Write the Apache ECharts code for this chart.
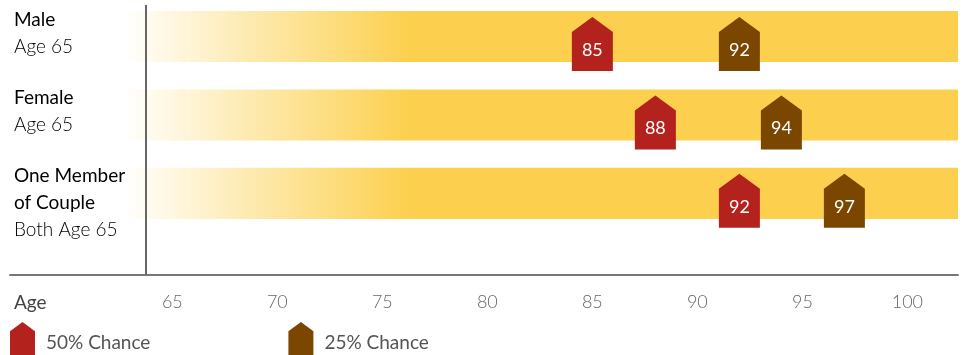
<!DOCTYPE html>
<html>
<head>
<meta charset="utf-8">
<script src="https://cdn.jsdelivr.net/npm/echarts@6/dist/echarts.min.js"></script>
<style>
html,body{margin:0;padding:0;background:#fff;}
#c{width:964px;height:355px;}
</style>
</head>
<body>
<div id="c"></div>
<script>
// ---- data ----
const rowTitles = ['Male', 'Female', 'One Member\nof Couple'];
const rowSubtitles = ['Age 65', 'Age 65', 'Both Age 65'];
const chance50 = [85, 88, 92];
const chance25 = [92, 94, 97];
const tickValues = [65, 70, 75, 80, 85, 90, 95, 100];
const seriesNames = ['50% Chance', '25% Chance'];
const axisTitle = 'Age';

// ---- config ----
const X_MIN = 57.27, X_MAX = 102.41;
const BAR_START = 62.65, DIVIDER = 63.75;
const YELLOW = '#FCD04E', RED = '#B3221C', BROWN = '#7B4600';
const FONT = 'Lato, "Open Sans", sans-serif';
const HOUSE = 'path://M0,15 L20.5,0 L41,15 L41,54 L0,54 Z';

const chart = echarts.init(document.getElementById('c'), null, {renderer: 'canvas'});

const rows = rowTitles.map((t, i) => [i]);

function renderRow(params, api) {
  const row = api.value(0);
  const p0 = api.coord([BAR_START, row]);
  const p1 = api.coord([X_MAX, row]);
  const h = api.size([0, 0.65])[1];
  const top = p0[1] - h / 2;
  const xLeft = api.coord([X_MIN, row])[0];
  const fadeEnd = (api.coord([76.3, row])[0] - p0[0]) / (p1[0] - p0[0]);
  return {
    type: 'group',
    children: [
      {
        type: 'rect',
        shape: {x: p0[0], y: top, width: p1[0] - p0[0], height: h},
        style: {
          fill: new echarts.graphic.LinearGradient(0, 0, 1, 0, [
            {offset: 0, color: 'rgba(252,208,78,0)'},
            {offset: fadeEnd, color: YELLOW},
            {offset: 1, color: YELLOW}
          ])
        },
        z2: 0
      },
      {
        type: 'text',
        x: xLeft + 4,
        y: top - 5,
        style: {
          text: rowTitles[row].split('\n').map(s => '{b|' + s + '}').join('\n') + '\n{l|' + rowSubtitles[row] + '}',
          rich: {
            b: {fontFamily: FONT, fontSize: 19, fontWeight: 400, color: '#444', lineHeight: 27},
            l: {fontFamily: FONT, fontSize: 19, fontWeight: 300, color: '#555', lineHeight: 27}
          },
          verticalAlign: 'top',
          align: 'left'
        },
        z2: 5
      }
    ]
  };
}

function markerSeries(name, vals, color) {
  return {
    name: name,
    type: 'scatter',
    symbol: HOUSE,
    symbolSize: [41, 54],
    symbolOffset: [0, 7.5],
    itemStyle: {color: color, opacity: 1},
    z: 5,
    data: vals.map((v, i) => [v, i]),
    label: {
      show: true,
      position: 'inside',
      offset: [0, 6],
      formatter: p => String(p.value[0]),
      color: '#fff',
      fontFamily: FONT,
      fontSize: 18,
      fontWeight: 400
    },
    emphasis: {disabled: true}
  };
}

chart.setOption({
  animation: false,
  grid: {left: 10, right: 6, top: 5, bottom: 80, containLabel: false},
  xAxis: {
    type: 'value',
    min: X_MIN,
    max: X_MAX,
    splitLine: {show: false},
    axisTick: {show: false},
    axisLine: {show: true, onZero: false, lineStyle: {color: '#777', width: 2}},
    axisLabel: {
      customValues: [X_MIN].concat(tickValues),
      alignMinLabel: 'left',
      margin: 18,
      color: '#666',
      fontFamily: FONT,
      fontSize: 18,
      fontWeight: 300,
      formatter: v => (Math.abs(v - X_MIN) < 1e-6 ? '{a|' + axisTitle + '}' : String(v)),
      rich: {
        a: {fontFamily: FONT, fontSize: 19, fontWeight: 400, color: '#444', padding: [0, 0, 0, 4]}
      }
    }
  },
  yAxis: {
    type: 'value',
    inverse: true,
    min: -0.4,
    max: 3.04,
    show: false
  },
  legend: {
    data: seriesNames,
    left: 10,
    top: 322,
    padding: 0,
    icon: HOUSE,
    itemWidth: 25,
    itemHeight: 33,
    itemGap: 138,
    selectedMode: false,
    formatter: n => '{t|' + n + '}',
    textStyle: {
      fontFamily: FONT, fontSize: 19, color: '#555', fontWeight: 400,
      rich: {t: {fontFamily: FONT, fontSize: 19, color: '#555', padding: [8, 0, 0, 6]}}
    }
  },
  series: [
    {
      type: 'custom',
      renderItem: renderRow,
      data: rows,
      z: 1,
      silent: true,
      markLine: {
        silent: true,
        symbol: 'none',
        label: {show: false},
        lineStyle: {color: '#666', width: 2, type: 'solid'},
        data: [{xAxis: DIVIDER}]
      }
    },
    markerSeries(seriesNames[0], chance50, RED),
    markerSeries(seriesNames[1], chance25, BROWN)
  ]
});
</script>
</body>
</html>
